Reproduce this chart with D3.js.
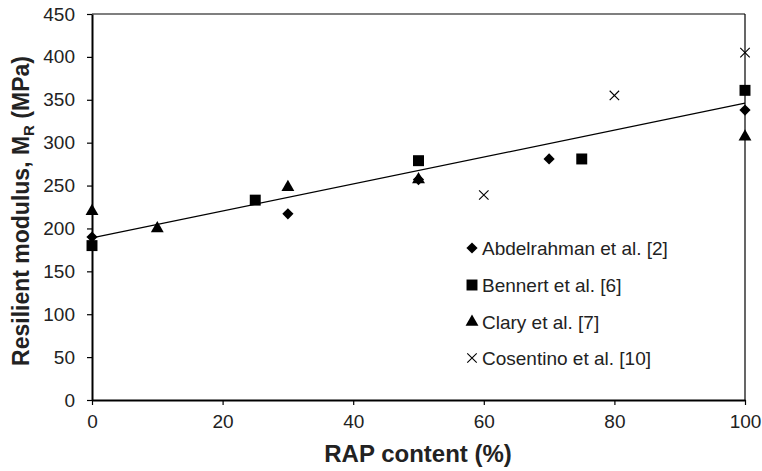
<!DOCTYPE html>
<html><head><meta charset="utf-8">
<script src="https://cdn.jsdelivr.net/npm/d3@7"></script>
<style>body{margin:0;background:#fff}svg{font-family:"Liberation Sans",Arial,sans-serif}</style>
</head><body><svg id="c" width="762" height="471"></svg>
<script>
const abdelrahmanX=[0,30,50,70,100];
const abdelrahmanY=[190,217,257,281,338];
const bennertX=[0,25,50,75,100];
const bennertY=[180,233,279,281,361];
const claryX=[0,10,30,50,100];
const claryY=[220,200,248,257,307];
const cosentinoX=[60,80,100];
const cosentinoY=[239,355,405];
const trendX=[0,100];
const trendY=[189,346];
const xTicks=[0,20,40,60,80,100];
const yTicks=[0,50,100,150,200,250,300,350,400,450];
const seriesNames=["Abdelrahman et al. [2]","Bennert et al. [6]","Clary et al. [7]","Cosentino et al. [10]"];

const svg=d3.select("#c");
const L=92,R=745,T=14,B=400;
const x=d3.scaleLinear().domain([0,100]).range([L,R]);
const y=d3.scaleLinear().domain([0,450]).range([B,T]);

svg.append("line").attr("x1",L).attr("x2",R).attr("y1",T).attr("y2",T).attr("stroke","#000").attr("stroke-width",1.2);
svg.append("line").attr("x1",R).attr("x2",R).attr("y1",T).attr("y2",B).attr("stroke","#000").attr("stroke-width",1.2);

const xa=svg.append("g").attr("transform",`translate(0,${B})`).call(d3.axisBottom(x).tickValues(xTicks).tickSize(5).tickPadding(10).tickSizeOuter(0));
const ya=svg.append("g").attr("transform",`translate(${L},0)`).call(d3.axisLeft(y).tickValues(yTicks).tickSize(5).tickPadding(12).tickSizeOuter(0));
[xa,ya].forEach(g=>{
  g.select(".domain").attr("stroke","#000").attr("stroke-width",2);
  g.selectAll(".tick line").attr("stroke","#000").attr("stroke-width",1.2);
  g.selectAll("text").attr("font-size",19).attr("fill","#222").attr("font-family","Liberation Sans, Arial, sans-serif");
});

svg.append("line").attr("x1",x(trendX[0])).attr("y1",y(trendY[0])).attr("x2",x(trendX[1])).attr("y2",y(trendY[1])).attr("stroke","#000").attr("stroke-width",1.2);

const sym={
  diamond:d3.symbol().type(d3.symbolDiamond2).size(80),
  square:d3.symbol().type(d3.symbolSquare).size(120),
  triangle:d3.symbol().type(d3.symbolTriangle).size(72),
  cross:d3.symbol().type(d3.symbolTimes).size(60)
};
function drawMarker(g,type,cx,cy){
  if(type==="cross"){
    g.append("path").attr("d",sym.cross()).attr("transform",`translate(${cx},${cy})`).attr("fill","none").attr("stroke","#000").attr("stroke-width",1.1);
  }else{
    g.append("path").attr("d",sym[type]()).attr("transform",`translate(${cx},${cy})`).attr("fill","#000");
  }
}
const series=[
  {xs:abdelrahmanX,ys:abdelrahmanY,type:"diamond"},
  {xs:bennertX,ys:bennertY,type:"square"},
  {xs:claryX,ys:claryY,type:"triangle"},
  {xs:cosentinoX,ys:cosentinoY,type:"cross"}
];
const mg=svg.append("g");
series.forEach(s=>s.xs.forEach((v,i)=>drawMarker(mg,s.type,x(v),y(s.ys[i]))));

const lg=svg.append("g");
const legendY=[248,285,322,358];
series.forEach((s,i)=>{
  const ly=legendY[i];
  drawMarker(lg,s.type,472,ly);
  lg.append("text").attr("x",482).attr("y",ly+7).attr("font-size",19).attr("fill","#222").text(seriesNames[i]);
});

svg.append("text").attr("x",418).attr("y",462).attr("text-anchor","middle").attr("font-size",24).attr("font-weight","bold").attr("fill","#222").text("RAP content (%)");
const yt=svg.append("text").attr("transform",`translate(29,211) rotate(-90)`).attr("text-anchor","middle").attr("font-size",23).attr("font-weight","bold").attr("fill","#222");
yt.append("tspan").text("Resilient modulus, M");
yt.append("tspan").attr("font-size",15).attr("dy",5).text("R");
yt.append("tspan").attr("dy",-5).text(" (MPa)");
</script></body></html>
